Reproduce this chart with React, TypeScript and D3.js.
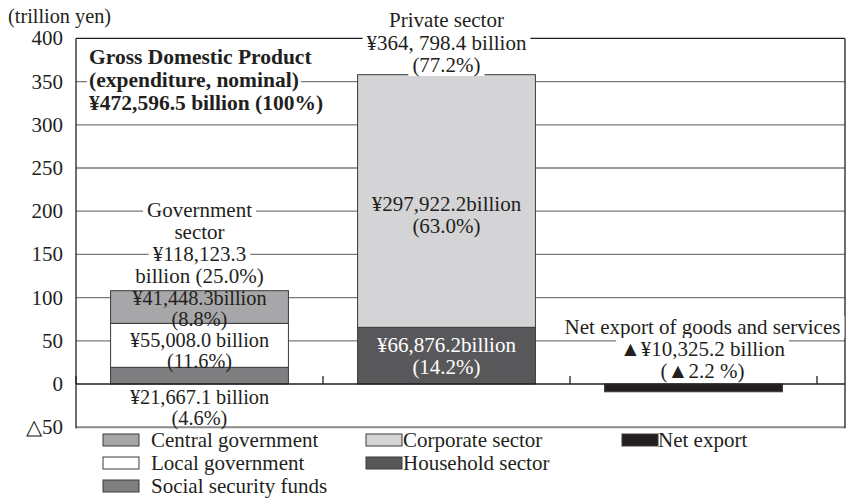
import React from "react";
import * as d3 from "d3";

const categories = ["Government sector", "Private sector", "Net export"];
const seriesKeys = ["social", "local", "central", "household", "corporate", "netExport"];
const seriesNames = ["Social security funds", "Local government", "Central government", "Household sector", "Corporate sector", "Net export"];
// values (trillion yen) as drawn in the picture
const socialValues = [19.3, 0, 0];
const localValues = [50.9, 0, 0];
const centralValues = [37.8, 0, 0];
const householdValues = [0, 65.6, 0];
const corporateValues = [0, 292.4, 0];
const netExportValues = [0, 0, -9];
const yTicks = [-50, 0, 50, 100, 150, 200, 250, 300, 350, 400];
const yTickLabels = ["△50", "0", "50", "100", "150", "200", "250", "300", "350", "400"];

const W = 846, H = 498;
const left = 76, right = 845, bandRight = 817;
const FONT = "'Liberation Serif', 'Times New Roman', serif";
const FS = 21;
const FSS = 20.3;
const FSB = 21.5;

const colors: Record<string, string> = {
  social: "#7f7f81",
  local: "#ffffff",
  central: "#a7a7a9",
  household: "#58585a",
  corporate: "#d4d4d6",
  netExport: "#231f20",
};

type Lbl = { text: string; x: number; y: number; bg?: boolean; fill?: string; bold?: boolean; anchor?: string; small?: boolean };

export default function App() {
  const y = d3.scaleLinear().domain([-50, 400]).range([427.2, 38.4]);
  const x = d3.scaleBand<string>().domain(categories).range([left, bandRight]).paddingInner(0.28).paddingOuter(0.14);

  const table = categories.map((c, i) => ({
    cat: c,
    social: socialValues[i],
    local: localValues[i],
    central: centralValues[i],
    household: householdValues[i],
    corporate: corporateValues[i],
    netExport: netExportValues[i],
  }));
  const stacked = d3.stack<any>().keys(seriesKeys).offset(d3.stackOffsetDiverging)(table);

  const cx0 = x(categories[0])! + x.bandwidth() / 2;
  const cx1 = x(categories[1])! + x.bandwidth() / 2;
  const cx2 = x(categories[2])! + x.bandwidth() / 2 + 9;

  const labels: Lbl[] = [
    { text: "Private sector", x: cx1, y: 20, bg: true },
    { text: "¥364, 798.4 billion", x: cx1, y: 43, bg: true },
    { text: "(77.2%)", x: cx1, y: 65, bg: true },
    { text: "¥297,922.2billion", x: cx1, y: 204 },
    { text: "(63.0%)", x: cx1, y: 226 },
    { text: "¥66,876.2billion", x: cx1, y: 345, fill: "#ffffff" },
    { text: "(14.2%)", x: cx1, y: 367, fill: "#ffffff" },
    { text: "Government", x: cx0, y: 210, bg: true },
    { text: "sector", x: cx0, y: 232, bg: true },
    { text: "¥118,123.3", x: cx0, y: 254, bg: true },
    { text: "billion (25.0%)", x: cx0, y: 276, bg: true },
    { text: "¥41,448.3billion", x: cx0, y: 298, small: true },
    { text: "(8.8%)", x: cx0, y: 318.5, small: true },
    { text: "¥55,008.0 billion", x: cx0, y: 339.5, small: true },
    { text: "(11.6%)", x: cx0, y: 360.5, small: true },
    { text: "¥21,667.1 billion", x: cx0, y: 397, small: true },
    { text: "(4.6%)", x: cx0, y: 418, small: true },
    { text: "Net export of goods and services", x: cx2, y: 327, bg: true },
    { text: "▲¥10,325.2 billion", x: cx2, y: 349, bg: true },
    { text: "(▲2.2 %)", x: cx2, y: 371, bg: true },
    { text: "Gross Domestic Product", x: 89, y: 57, bg: true, bold: true, anchor: "start" },
    { text: "(expenditure, nominal)", x: 89, y: 80, bg: true, bold: true, anchor: "start" },
    { text: "¥472,596.5 billion (100%)", x: 89, y: 103, bg: true, bold: true, anchor: "start" },
  ];

  const legendItems = [
    { key: "central", col: 0, row: 0 },
    { key: "local", col: 0, row: 1 },
    { key: "social", col: 0, row: 2 },
    { key: "corporate", col: 1, row: 0 },
    { key: "household", col: 1, row: 1 },
    { key: "netExport", col: 2, row: 0 },
  ];
  const legendColX = [103, 366, 622];
  const legendTextX = [151, 403, 658];
  const legendRowY = [440, 463, 486];

  const sizeOf = (l: Lbl) => (l.bold ? FSB : l.small ? FSS : FS);
  const measure = (t: string, size: number, bold?: boolean) => {
    const canvas = (measure as any).c || ((measure as any).c = document.createElement("canvas"));
    const ctx = canvas.getContext("2d");
    ctx.font = `${bold ? "bold " : ""}${size}px ${FONT}`;
    return ctx.measureText(t).width;
  };

  return (
    <svg width={W} height={H} style={{ position: "absolute", left: 0, top: 0, background: "#fff" }} fontFamily={FONT}>
      {/* gridlines */}
      {yTicks.filter((t) => t !== 0 && t !== 400 && t !== -50).map((t) => (
        <line key={t} x1={left} x2={right} y1={y(t)} y2={y(t)} stroke="#7a7a7a" strokeWidth={1.3} />
      ))}
      <line x1={left} x2={right} y1={y(-50)} y2={y(-50)} stroke="#8a8a8a" strokeWidth={2} />
      <line x1={left} x2={right} y1={y(400)} y2={y(400)} stroke="#231f20" strokeWidth={1.3} />
      {/* bars */}
      {stacked.map((s) => (
        <g key={s.key}>
          {s.map((d, i) =>
            d[1] - d[0] === 0 ? null : (
              <rect
                key={i}
                x={x(categories[i])}
                width={x.bandwidth()}
                y={y(Math.max(d[0], d[1]))}
                height={Math.abs(y(d[0]) - y(d[1]))}
                fill={colors[s.key]}
                stroke="#3a3a3a"
                strokeWidth={1}
              />
            )
          )}
        </g>
      ))}
      {/* zero line */}
      <line x1={left} x2={right} y1={y(0)} y2={y(0)} stroke="#231f20" strokeWidth={1.3} />
      {/* category ticks */}
      {[0, 1, 2, 3].map((i) => (
        <line key={i} x1={left + i * x.step()} x2={left + i * x.step()} y1={y(0)} y2={y(0) - 8} stroke="#231f20" strokeWidth={1.3} />
      ))}
      {/* frame */}
      <line x1={left} x2={left} y1={y(400)} y2={y(-50) + 1} stroke="#231f20" strokeWidth={1.3} />
      <line x1={right} x2={right} y1={y(400)} y2={y(-50) + 1} stroke="#231f20" strokeWidth={1.3} />
      {/* y tick labels */}
      {yTicks.map((t, i) => (
        <text key={t} x={63} y={y(t) + 7} textAnchor="end" fontSize={FS} fill="#231f20">
          {yTickLabels[i]}
        </text>
      ))}
      <text x={8} y={23} fontSize={FSS} fill="#231f20">(trillion yen)</text>
      {/* annotations */}
      {labels.map((l, i) => {
        const size = sizeOf(l);
        const w = measure(l.text, size, l.bold);
        const anchor = l.anchor || "middle";
        const bx = anchor === "start" ? l.x - 2 : l.x - w / 2 - 4;
        return (
          <g key={i}>
            {l.bg && <rect x={bx} y={l.y - 11} width={w + (anchor === "start" ? 4 : 8)} height={22} fill="#fff" />}
            <text
              x={l.x}
              y={l.y + 7}
              textAnchor={anchor}
              fontSize={size}
              fontWeight={l.bold ? "bold" : "normal"}
              fill={l.fill || "#231f20"}
            >
              {l.text}
            </text>
          </g>
        );
      })}
      {/* legend */}
      {legendItems.map((it) => {
        const idx = seriesKeys.indexOf(it.key);
        return (
          <g key={it.key}>
            <rect
              x={legendColX[it.col]}
              y={legendRowY[it.row] - 6}
              width={36}
              height={12}
              fill={colors[it.key]}
              stroke="#3a3a3a"
              strokeWidth={1}
            />
            <text x={legendTextX[it.col]} y={legendRowY[it.row] + 7} fontSize={FS} fill="#231f20">
              {seriesNames[idx]}
            </text>
          </g>
        );
      })}
    </svg>
  );
}
